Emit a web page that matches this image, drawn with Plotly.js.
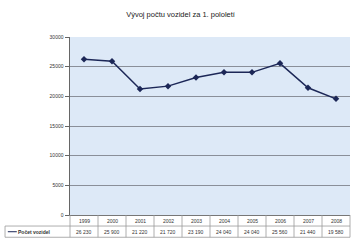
<!DOCTYPE html>
<html><head><meta charset="utf-8">
<script src="https://cdn.plot.ly/plotly-3.0.1.min.js"></script>
<style>html,body{margin:0;padding:0;background:#fff}#c{width:354px;height:242px}</style>
</head><body><div id="c"></div>
<script>
const years = ['1999','2000','2001','2002','2003','2004','2005','2006','2007','2008'];
const vehicles = [26230, 25900, 21220, 21720, 23190, 24040, 24040, 25560, 21440, 19580];
const seriesName = 'Počet vozidel';
const titleText = 'Vývoj počtu vozidel za 1. pololetí';
const yTicks = [0, 5000, 10000, 15000, 20000, 25000, 30000];

function fmt(v){ return String(v).replace(/\B(?=(\d{3})+(?!\d))/g, ' '); }

const rowY1 = -0.031, rowY2 = -0.094;
const annotations = [];
const shapes = [];
const n = years.length;
years.forEach((yr, i) => {
  const px = (i + 0.5) / n;
  annotations.push({x: px, xref: 'paper', y: rowY1, yref: 'paper', text: yr, showarrow: false,
    xanchor: 'center', yanchor: 'middle', font: {size: 5, color: '#333'}});
  annotations.push({x: px, xref: 'paper', y: rowY2, yref: 'paper', text: fmt(vehicles[i]), showarrow: false,
    xanchor: 'center', yanchor: 'middle', font: {size: 5, color: '#333'}});
  shapes.push({type: 'line', xref: 'paper', yref: 'paper', x0: i / n, x1: i / n, y0: 0, y1: -0.125,
    line: {color: '#999', width: 0.8}});
});
annotations.push({x: -0.06, xref: 'paper', y: rowY2, yref: 'paper', text: '<b>' + seriesName + '</b>', showarrow: false,
  xanchor: 'right', yanchor: 'middle', font: {size: 5, color: '#333'}});
shapes.push({type: 'line', xref: 'paper', yref: 'paper', x0: 1, x1: 1, y0: 0, y1: -0.125, line: {color: '#999', width: 0.8}});
shapes.push({type: 'line', xref: 'paper', yref: 'paper', x0: -0.232, x1: 1, y0: -0.062, y1: -0.062, line: {color: '#999', width: 0.8}});
shapes.push({type: 'line', xref: 'paper', yref: 'paper', x0: -0.232, x1: 1, y0: -0.125, y1: -0.125, line: {color: '#999', width: 0.8}});
shapes.push({type: 'line', xref: 'paper', yref: 'paper', x0: -0.232, x1: -0.232, y0: -0.062, y1: -0.125, line: {color: '#999', width: 0.8}});
shapes.push({type: 'line', xref: 'paper', yref: 'paper', x0: -0.222, x1: -0.19, y0: rowY2, y1: rowY2, line: {color: '#1c2757', width: 1}});

const trace = {
  x: years, y: vehicles, type: 'scatter', mode: 'lines+markers',
  line: {color: '#1c2757', width: 1.5},
  marker: {symbol: 'diamond', size: 5, color: '#1c2757'},
  showlegend: false, cliponaxis: false
};

const layout = {
  width: 354, height: 242,
  margin: {l: 70, r: 4, t: 37, b: 27},
  paper_bgcolor: '#ffffff', plot_bgcolor: '#dde9f7',
  title: {text: titleText, x: 0.51, xanchor: 'center', y: 0.94, yanchor: 'middle', font: {size: 7.5, color: '#222', family: 'Liberation Sans, Arial'}},
  font: {family: 'Liberation Sans, Arial', size: 5, color: '#333'},
  xaxis: {type: 'category', range: [-0.5, 9.5], showticklabels: false, showgrid: false, zeroline: false,
    showline: true, linecolor: '#777', linewidth: 1, ticks: ''},
  yaxis: {range: [0, 30000], tickvals: yTicks, ticktext: yTicks.map(v => String(v)),
    showgrid: true, gridcolor: '#8a8f99', gridwidth: 1, zeroline: false,
    showline: true, linecolor: '#666', linewidth: 1.5, ticks: 'outside', ticklen: 4, tickcolor: '#666',
    tickfont: {size: 5, color: '#333'}},
  annotations: annotations, shapes: shapes
};
Plotly.newPlot('c', [trace], layout, {displayModeBar: false, staticPlot: true});
</script></body></html>
